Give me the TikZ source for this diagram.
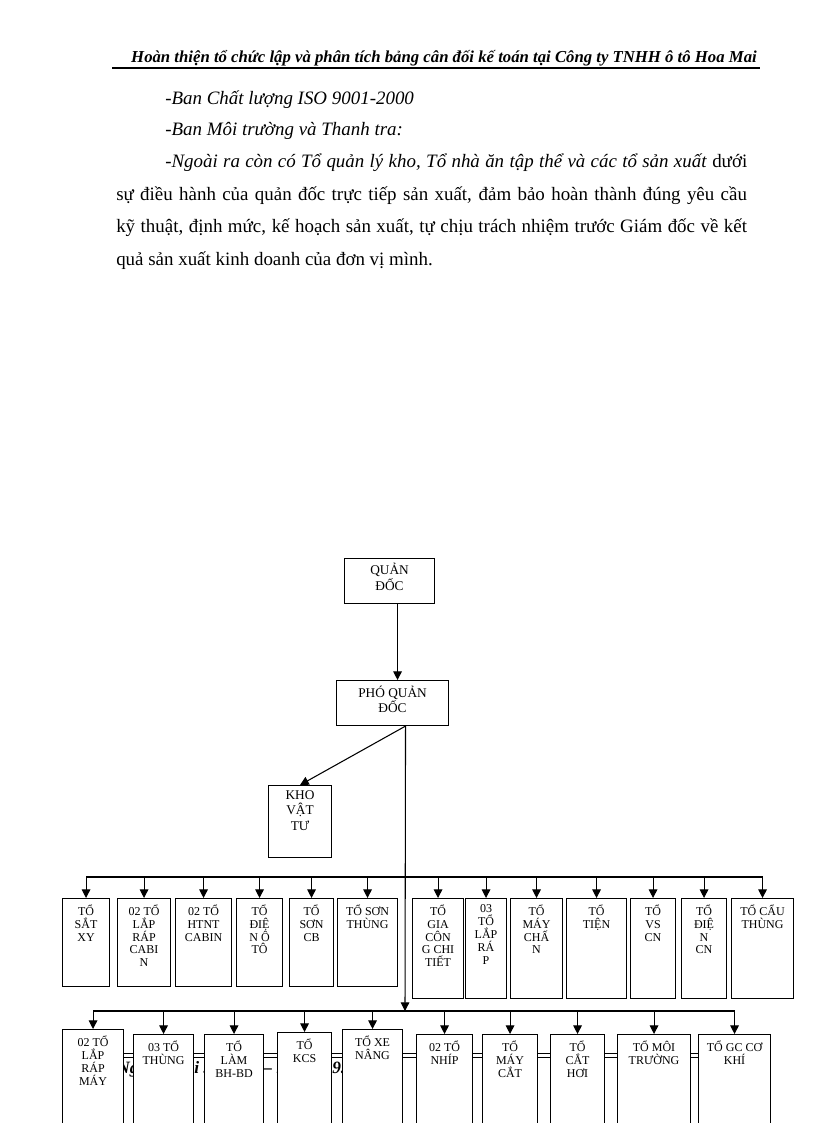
\documentclass[tikz,border=0pt]{standalone}
\usepackage{fontspec}
\setmainfont{Liberation Serif}
\usetikzlibrary{positioning, calc, arrows.meta}
\tikzset{unit/.style={draw,fill=white,line width=0.8pt,inner sep=0pt,anchor=north west},
    unit text/.style={anchor=north,align=center,inner xsep=1pt,inner ysep=5pt,
        font=\fontsize{9}{9.6}\selectfont},
    head text/.style={unit text,inner ysep=4pt,font=\fontsize{10}{11.5}\selectfont},
    link/.style={draw,line width=0.8pt,-{Triangle[width=6.5pt,length=6.5pt]}},
    bus/.style={draw,line width=0.8pt},
    body/.style={anchor=base west,inner sep=0pt,font=\fontsize{14.2}{16}\selectfont},
    foot/.style={anchor=base west,inner sep=0pt,font=\fontsize{13}{15}\selectfont\bfseries\itshape}}

\begin{document}
\begin{tikzpicture}[x=0.75pt,y=-0.75pt]
    \useasboundingbox[fill=white] (0,0) rectangle (816,1123);

    % page text
    \node[anchor=base east,inner sep=0pt,font=\fontsize{12.55}{14}\selectfont\bfseries\itshape] (title) at (757,63)
        {Hoàn thiện tổ chức lập và phân tích bảng cân đối kế toán tại Công ty TNHH ô tô Hoa Mai};
    \draw[line width=1.5pt] (112,68) -- (760,68);
    \node[body] (l1) at (165,105) {\textit{-Ban Chất lượng ISO 9001-2000}};
    \node[body] (l2) at (165,136) {\textit{-Ban Môi trường và Thanh tra:}};
    \node[body] (l3) at (165,168) {\hbox to 436.5pt{\textit{-Ngoài ra còn có Tổ quản lý kho, Tổ nhà ăn tập thể và các tổ sản xuất} dưới}};
    \node[body] (l4) at (116,201) {\hbox to 473pt{sự điều hành của quản đốc trực tiếp sản xuất, đảm bảo hoàn thành đúng yêu cầu}};
    \node[body] (l5) at (116,233) {\hbox to 473pt{kỹ thuật, định mức, kế hoạch sản xuất, tự chịu trách nhiệm trước Giám đốc về kết}};
    \node[body] (l6) at (116,265) {quả sản xuất kinh doanh của đơn vị mình.};

    % footer (mostly hidden behind the boxes)
    \draw[line width=0.6pt] (112,1053) -- (760,1053);
    \draw[line width=0.6pt] (112,1057) -- (760,1057);
    \foreach \pos/\name/\txt in {{(117,1073)/f1/Ng}, {(194,1073)/f2/i .}, {(263,1073)/f3/– i}, {(332,1073)/f4/9.}}
                \node[foot] (\name) at \pos {\txt};

    % top of the chart
    \node[unit,minimum width=67.5pt,minimum height=33.75pt] (quan) at (344,558) {};
    \node[head text] (quan-t) at (quan.north) {QUẢN\\ĐỐC};
    \node[unit,minimum width=84pt,minimum height=33.75pt] (pho) at (336,680) {};
    \node[head text] (pho-t) at (pho.north) {PHÓ QUẢN\\ĐỐC};
    \node[unit,minimum width=47.25pt,minimum height=54pt] (kho) at (268,785) {};
    \node[head text] (kho-t) at (kho.north) {KHO\\VẬT\\TƯ};

    % tổ sản xuất
    \foreach \x/\y/\w/\h/\name/\txt in {{62/898/47/88/r1a/TỔ\\SẮT\\XY}, {117/898/53/88/r1b/02 TỔ\\LẮP\\RÁP\\CABI\\N},
        {175/898/56/88/r1c/02 TỔ\\HTNT\\CABIN}, {236/898/46/88/r1d/TỔ\\ĐIỆ\\N Ô\\TÔ}, {289/898/44/88/r1e/TỔ\\SƠN\\CB},
        {337/898/60/88/r1f/TỔ SƠN\\THÙNG}, {412/898/51/100/r1g/TỔ\\GIA\\CÔN\\G CHI\\TIẾT}, {465/898/41/100/r1h/03\\TỔ\\LẮP\\RÁ\\P},
        {510/898/52/100/r1i/TỔ\\MÁY\\CHẤ\\N}, {566/898/60/100/r1j/TỔ\\TIỆN}, {630/898/45/100/r1k/TỔ\\VS\\CN},
        {681/898/45/100/r1l/TỔ\\ĐIỆ\\N\\CN}, {731/898/62/100/r1m/TỔ CẨU\\THÙNG},
        {62/1029/61/106/r2a/02 TỔ\\LẮP\\RÁP\\MÁY}, {133/1034/60/101/r2b/03 TỔ\\THÙNG}, {204/1034/59/101/r2c/TỔ\\LÀM\\BH-BD},
        {277/1032/54/103/r2d/TỔ\\KCS}, {342/1029/60/106/r2e/TỔ XE\\NÂNG}, {416/1034/56/101/r2f/02 TỔ\\NHÍP},
        {482/1034/55/101/r2g/TỔ\\MÁY\\CẮT}, {550/1034/54/101/r2h/TỔ\\CẮT\\HƠI}, {617/1034/73/101/r2i/TỔ MÔI\\TRƯỜNG},
        {698/1034/72/101/r2j/TỔ GC CƠ\\KHÍ}}
        {
                \node[unit,minimum width=\w*0.75pt,minimum height=\h*0.75pt] (\name) at (\x,\y) {};
                \node[unit text] (\name-t) at (\name.north) {\txt};
        }

    % connectors
    \coordinate (drop) at ($(quan.south)+(8,0)$);
    \coordinate (tap) at ($(pho.south)+(13,0)$);
    \coordinate (bus1) at (405,877);
    \coordinate (bus2) at (405,1011);
    \path[link] (drop) -- (drop |- pho.north);
    \path[link] (tap) -- (kho.north);
    \path[link] (tap) -- (bus2);
    \path[bus] (r1a.north |- bus1) -- (r1m.north |- bus1);
    \path[bus] (r2a.north |- bus2) -- (r2j.north |- bus2);
    \foreach \dest in {r1a,r1b,r1c,r1d,r1e,r1f,r1g,r1h,r1i,r1j,r1k,r1l,r1m}
              \path[link] (\dest.north |- bus1) -- (\dest.north);
    \foreach \dest in {r2a,r2b,r2c,r2d,r2e,r2f,r2g,r2h,r2i,r2j}
              \path[link] (\dest.north |- bus2) -- (\dest.north);
\end{tikzpicture}
\end{document}
